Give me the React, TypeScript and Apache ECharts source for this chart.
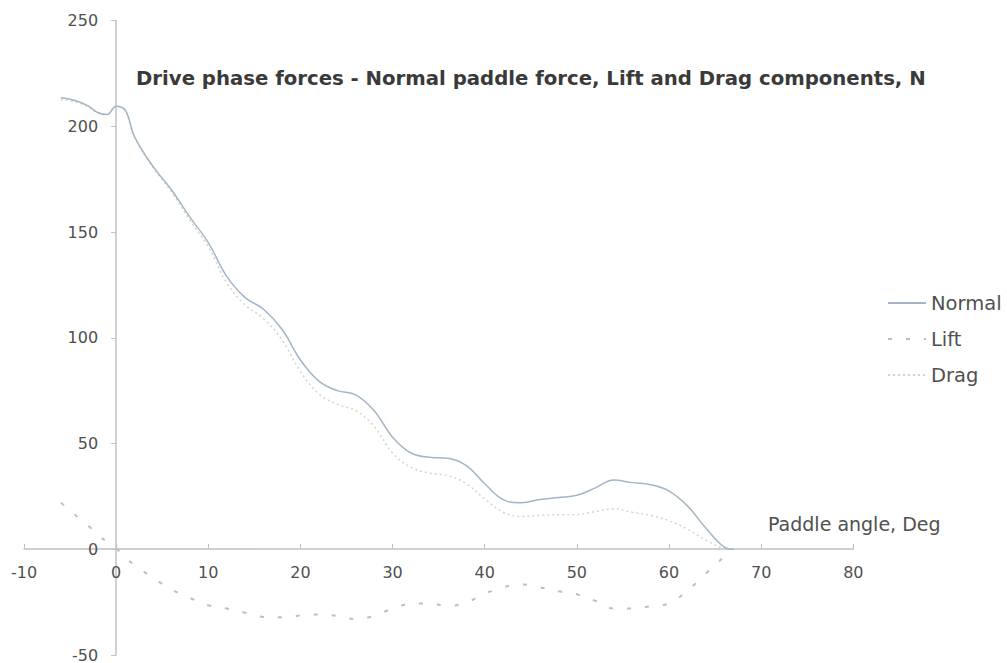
import React, { useEffect, useRef } from "react";
import * as echarts from "echarts";

const angles = [-6, -5, -4, -3, -2, -1, 0, 1, 2, 4, 6, 8, 10, 12, 14, 16, 18, 20, 22, 24, 26, 28, 30, 32, 34, 36, 38, 40, 42, 44, 46, 48, 50, 52, 54, 56, 58, 60, 62, 64, 66, 67];
const normal = [213.5, 212.8, 211.5, 209.5, 206.5, 205.5, 209.5, 207.5, 195, 181, 170, 157, 145, 129, 119, 113.5, 104, 89.5, 79.5, 75, 73, 65.5, 53, 45.5, 43.5, 43, 39.5, 31, 23.5, 22, 23.5, 24.5, 25.5, 29, 32.7, 31.5, 30.5, 27.5, 20.5, 10, 1, 0];
const lift = [22, 18.5, 14.5, 11, 7, 3.5, 0.5, -4, -7.5, -13.5, -19, -23, -26.5, -28, -30, -32, -32.2, -31.3, -30.8, -31.6, -33, -31.5, -28, -25.8, -25.6, -26.8, -25.2, -21, -18, -16.6, -18, -19.9, -21.3, -24.4, -28, -28, -27, -25.6, -19.5, -11.5, -3.5, 0];
const drag = [212.5, 212, 211, 209, 206.3, 205.5, 209.5, 207.3, 194.7, 180.5, 169, 155.5, 143, 126, 115.5, 109, 99, 84, 73.5, 68.5, 65.5, 58, 45.5, 38.8, 36, 34.8, 31, 23.8, 17.5, 15.5, 16, 16.3, 16.4, 17.8, 19.2, 17.5, 16, 13.5, 9.5, 4.3, 0.4, 0];

const titleText = "Drive phase forces - Normal paddle force, Lift and Drag components, N";
const xAxisTitle = "Paddle angle, Deg";

const pairs = (ys: number[]) => angles.map((a, i) => [a, ys[i]]);

export default function App() {
  const ref = useRef<HTMLDivElement>(null);
  useEffect(() => {
    if (!ref.current) return;
    const chart = echarts.init(ref.current, null, { renderer: "svg" });
    const font = "'DejaVu Sans', sans-serif";
    const labelColor = "#505050";
    const axisColor = "#c0c0c0";
    chart.setOption({
      animation: false,
      backgroundColor: "#ffffff",
      textStyle: { fontFamily: font },
      title: {
        text: titleText,
        left: 136,
        top: 68,
        padding: 0,
        textStyle: { fontFamily: font, fontSize: 19.7, fontWeight: "bold", color: "#3a3a3a" },
      },
      legend: {
        orient: "vertical",
        left: 887,
        top: 293,
        padding: 0,
        itemWidth: 38,
        itemHeight: 14,
        itemGap: 16,
        itemStyle: { opacity: 0 },
        textStyle: { fontFamily: font, fontSize: 19.5, color: labelColor },
        data: ["Normal", "Lift", "Drag"],
      },
      graphic: [
        {
          type: "text",
          left: 768,
          top: 514,
          style: { text: xAxisTitle, fontFamily: font, fontSize: 19, fill: labelColor },
        },
      ],
      grid: { left: 24, right: 153.7, top: 20.5, bottom: 6.3, containLabel: false },
      xAxis: {
        type: "value",
        min: -10,
        max: 80,
        interval: 10,
        position: "bottom",
        offset: -106,
        splitLine: { show: false },
        axisLine: { onZero: false, lineStyle: { color: axisColor, width: 1.5 } },
        axisTick: { show: true, inside: true, length: 5, lineStyle: { color: axisColor } },
        axisLabel: { margin: 15, fontFamily: font, fontSize: 16, color: labelColor },
      },
      yAxis: {
        type: "value",
        min: -50,
        max: 250,
        interval: 50,
        position: "left",
        offset: -92.15,
        splitLine: { show: false },
        axisLine: { show: true, onZero: false, lineStyle: { color: axisColor, width: 1.5 } },
        axisTick: { show: true, inside: false, length: 5, lineStyle: { color: axisColor } },
        axisLabel: { margin: 18, fontFamily: font, fontSize: 16, color: labelColor },
      },
      series: [
        {
          name: "Normal",
          type: "line",
          data: pairs(normal),
          smooth: 0.4,
          symbol: "none",
          lineStyle: { color: "#a3b5c6", width: 1.5, type: "solid" },
          itemStyle: { color: "#a3b5c6" },
          z: 3,
        },
        {
          name: "Lift",
          type: "line",
          data: pairs(lift),
          smooth: 0.4,
          symbol: "none",
          lineStyle: { color: "#c9b9b9", width: 2, type: [4, 14] },
          itemStyle: { color: "#c9b9b9" },
          z: 2,
        },
        {
          name: "Drag",
          type: "line",
          data: pairs(drag),
          smooth: 0.4,
          symbol: "none",
          lineStyle: { color: "#d8d4c4", width: 1.5, type: [2, 3] },
          itemStyle: { color: "#d8d4c4" },
          z: 2,
        },
      ],
    });
    return () => chart.dispose();
  }, []);
  return (
    <div
      ref={ref}
      style={{ position: "fixed", left: 0, top: 0, width: 1007, height: 663, background: "#fff" }}
    />
  );
}
